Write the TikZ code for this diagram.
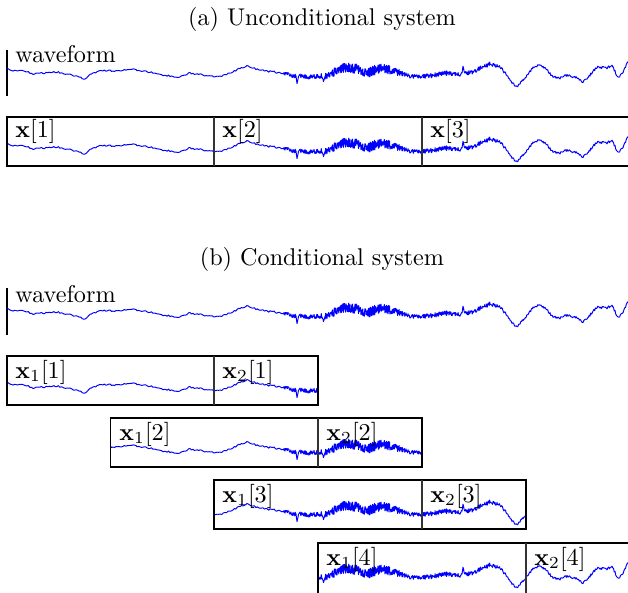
\documentclass[tikz,border=0pt]{standalone}
\tikzset{
  wave/.style={blue, line width=0.4pt, line join=round},
  frame/.style={black, line width=0.8pt},
  sepline/.style={black!80, line width=0.7pt},
  axisbar/.style={black, line width=0.5pt},
  lbl/.style={anchor=base west, inner sep=0pt},
  ttl/.style={anchor=base, inner sep=0pt},
}
\newcommand\drawwaveat[1]{\edef\tmpwave{\noexpand\draw[wave,shift={(0,#1)}] plot coordinates {\wavecoords};}\tmpwave}
\begin{document}
\begin{tikzpicture}[x=0.4133pt,y=-0.4133pt]
\useasboundingbox (0,0) rectangle (628,592);
\clip (0,0) rectangle (628,592);
% ---- build the waveform once ----
\pgfmathsetseed{4242}
\gdef\wavecoords{(7,68)}
\foreach \xa/\ya/\xb/\yb/\am/\st in {
7/68/13/71/0.8/1.5, 13/71/22/70/0.8/1.5, 22/70/33/74/0.8/1.5, 33/74/43/73/0.8/1.5,
43/73/57/72/0.8/1.5, 57/72/67/74/0.8/1.5, 67/74/75/76/0.8/1.5, 75/76/85/79/0.8/1.5,
85/79/90/75/0.8/1.5, 90/75/100/70/0.8/1.5, 100/70/113/71/0.8/1.5, 113/71/123/70/0.8/1.5,
123/70/133/69/0.8/1.5, 133/69/140/71/0.8/1.5, 140/71/150/72/0.8/1.5, 150/72/160/75/0.8/1.5,
160/75/170/76/0.8/1.5, 170/76/180/77/0.8/1.5, 180/77/190/73/0.8/1.5, 190/73/203/75/0.8/1.5,
203/75/217/77/0.8/1.5, 217/77/225/75/0.8/1.5, 225/75/233/72/0.8/1.5, 233/72/240/68/0.8/1.5,
240/68/247/66/0.8/1.5, 247/66/253/68/0.8/1.5, 253/68/260/70/0.8/1.5, 260/70/273/72/0.9/1.5,
273/72/283/73/1.0/1.2, 283/73/290/75/1.8/0.5, 290/75/296/76/2.2/0.4, 296/76/297/84/0.5/0.5,
297/84/298.5/76/0.5/0.5, 298.5/76/310/77/2.2/0.4, 310/77/320/76/2.2/0.4, 320/76/322.5/76/2.5/0.4,
322.5/76/323.5/82/0.5/0.5, 323.5/82/325/76/0.5/0.5, 325/76/333/73/3.5/0.3, 333/73/343/68/4.5/0.25,
343/68/353/68/5/0.25, 353/68/360/70/5/0.25, 360/70/367/73/4.5/0.25, 367/73/380/68/5/0.25,
380/68/390/70/4.5/0.25, 390/70/400/73/3.5/0.3, 400/73/410/76/2.2/0.4, 410/76/423/77/2.2/0.4,
423/77/433/75/2.5/0.35, 433/75/447/73/2.5/0.35, 447/73/460/75/2.2/0.4, 460/75/462/73/1/0.5,
462/73/463/66/0.5/0.5, 463/66/464.5/73/0.5/0.5, 464.5/73/473/72/2.2/0.4, 473/72/480/68/2.2/0.4,
480/68/490/64/2.2/0.4, 490/64/500/67/1.8/0.5, 500/67/507/75/1.4/0.8, 507/75/512/83/1.1/0.8,
512/83/517/87/1.1/0.8, 517/87/523/80/1.1/0.8, 523/80/533/68/1.2/0.8, 533/68/540/65/1.2/0.8,
540/65/547/70/1.2/0.8, 547/70/553/77/1.2/0.8, 553/77/560/78/1.2/0.8, 560/78/567/75/1.2/0.8,
567/75/577/78/1.2/0.8, 577/78/583/82/1.2/0.8, 583/82/590/75/1.2/0.8, 590/75/597/67/1.2/0.8,
597/67/607/68/1.2/0.8, 607/68/612/65/1.2/0.8, 612/65/618/78/1.2/0.8, 618/78/623/72/1.2/0.8,
623/72/628/62/1.2/0.8, 628/62/634/56/1.2/0.8}{
  \pgfmathtruncatemacro\nn{max(1,round((\xb-\xa)/\st))}
  \foreach \k in {1,...,\nn}{
    \pgfmathsetmacro\xx{\xa+(\xb-\xa)*\k/\nn}
    \pgfmathsetmacro\yy{\ya+(\yb-\ya)*\k/\nn+\am*rand}
    \xdef\wavecoords{\wavecoords(\xx,\yy)}
  }
}
% ================= (a) =================
\node[ttl] (ta) at (322,25) {(a) Unconditional system};
\draw[axisbar] (7,50) coordinate (ba1) -- (7,96) coordinate (ba2);
\node[lbl] (wa) at (15,62) {waveform};
\drawwaveat{0}
\begin{scope}
  \clip (7,117) rectangle (640,166);
  \drawwaveat{75}
\end{scope}
\draw[frame] (7,117) rectangle (640,166);
\draw[sepline] (214,117) -- (214,166);
\draw[sepline] (422,117) -- (422,166);
\node[lbl] (xa1) at (15,137) {$\mathbf{x}[1]$};
\node[lbl] (xa2) at (222,137) {$\mathbf{x}[2]$};
\node[lbl] (xa3) at (430,137) {$\mathbf{x}[3]$};
% ================= (b) =================
\node[ttl] (tb) at (322,265) {(b) Conditional system};
\draw[axisbar] (7,288) coordinate (bb1) -- (7,335) coordinate (bb2);
\node[lbl] (wb) at (15,302) {waveform};
\drawwaveat{240}
% row 1
\begin{scope}
  \clip (7,356) rectangle (318,405);
  \drawwaveat{314}
\end{scope}
\draw[frame] (7,356) rectangle (318,405);
\draw[sepline] (214,356) -- (214,405);
\node[lbl] (r11) at (15,378) {$\mathbf{x}_1[1]$};
\node[lbl] (r12) at (222,378) {$\mathbf{x}_2[1]$};
% row 2
\begin{scope}
  \clip (110.5,418) rectangle (422,467);
  \drawwaveat{376}
\end{scope}
\draw[frame] (110.5,418) rectangle (422,467);
\draw[sepline] (318,418) -- (318,467);
\node[lbl] (r21) at (119,440) {$\mathbf{x}_1[2]$};
\node[lbl] (r22) at (326,440) {$\mathbf{x}_2[2]$};
% row 3
\begin{scope}
  \clip (214,480) rectangle (526,529);
  \drawwaveat{438}
\end{scope}
\draw[frame] (214,480) rectangle (526,529);
\draw[sepline] (422,480) -- (422,529);
\node[lbl] (r31) at (222,502) {$\mathbf{x}_1[3]$};
\node[lbl] (r32) at (430,502) {$\mathbf{x}_2[3]$};
% row 4
\begin{scope}
  \clip (318,543) rectangle (640,600);
  \drawwaveat{501}
\end{scope}
\draw[frame] (318,543) rectangle (640,600);
\draw[sepline] (526,543) -- (526,600);
\node[lbl] (r41) at (326,565) {$\mathbf{x}_1[4]$};
\node[lbl] (r42) at (534,565) {$\mathbf{x}_2[4]$};
\end{tikzpicture}
\end{document}
